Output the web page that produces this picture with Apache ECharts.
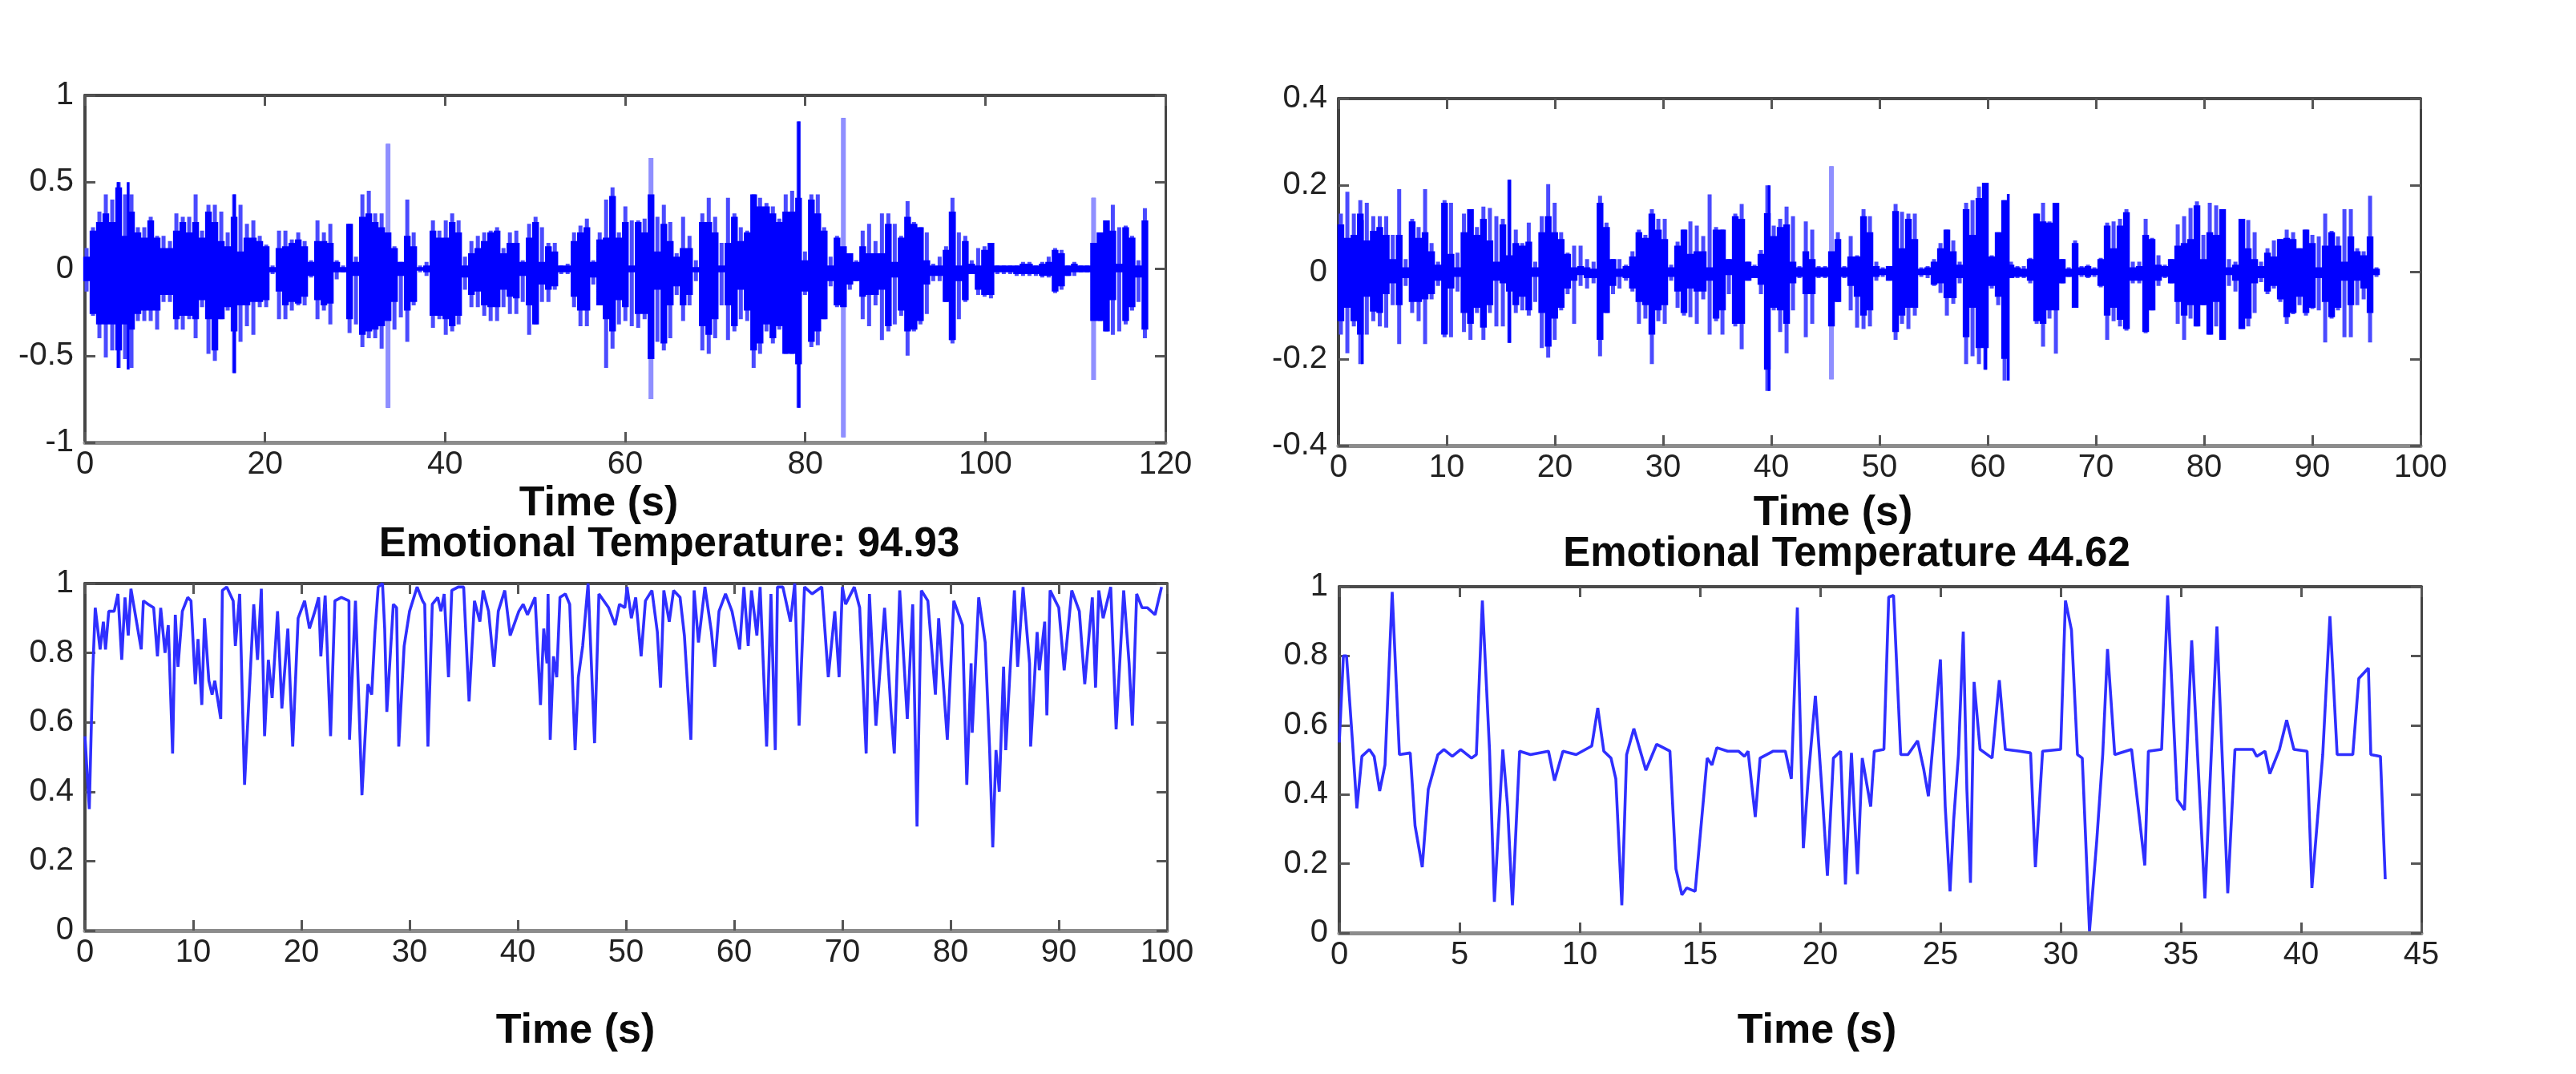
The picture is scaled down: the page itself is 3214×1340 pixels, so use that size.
<!DOCTYPE html>
<html>
<head>
<meta charset="utf-8">
<style>html,body{margin:0;padding:0;background:#fff}#c{width:3214px;height:1340px}</style>
<script src="https://cdn.jsdelivr.net/npm/echarts@6/dist/echarts.min.js"></script>
</head>
<body>
<div id="c"></div>
<script>
const xTitle = "Time (s)";
const titleLeftBottom = "Emotional Temperature: 94.93";
const titleRightBottom = "Emotional Temperature 44.62";

// top-left waveform: dense core and lighter peaks, read column by column
const wave1Start = 0.18, wave1Step = 0.7124;
const wave1CoreHi = [.07,.22,.27,.32,.27,.47,.19,.33,.21,.18,.28,.18,.12,.12,.22,.27,.21,.27,.18,.33,.27,.16,.13,.30,.10,.18,.18,.16,.13,.01,.12,.13,.15,.17,.13,.04,.16,.16,.15,.04,.01,.26,.04,.30,.32,.27,.24,.21,.12,.04,.19,.13,.01,.02,.22,.18,.18,.27,.21,.02,.09,.12,.16,.21,.22,
.09,.15,.15,.04,.18,.27,.04,.13,.10,.02,.02,.16,.21,.24,.04,.17,.18,.42,.18,.27,.02,.27,.21,.43,.10,.26,.16,.07,.12,.12,.01,.27,.27,.21,.02,.15,.30,.16,.21,.43,.36,.36,.32,.27,.33,.33,.41,.05,.40,.32,.22,.02,.18,.13,.09,.04,.13,.09,.09,.09,.26,.04,.18,.30,.26,
.24,.05,.02,.02,.11,.33,.02,.16,.03,.02,.11,.15,.02,.02,.02,.02,.03,.03,.02,.03,.04,.11,.09,.02,.03,.02,.02,.15,.21,.28,.22,.03,.24,.18,.02,.28];
const wave1PeakHi = [.12,.24,.33,.43,.40,.50,.43,.43,.24,.24,.30,.19,.19,.16,.32,.30,.30,.43,.22,.37,.37,.33,.21,.43,.37,.26,.28,.19,.14,.02,.22,.22,.17,.21,.16,.05,.28,.21,.26,.05,.02,.26,.07,.43,.45,.32,.32,.72,.13,.04,.40,.21,.02,.04,.28,.22,.28,.32,.28,.07,.16,.19,.21,.22,.24,
.12,.21,.22,.05,.26,.30,.24,.15,.15,.02,.03,.21,.25,.29,.05,.21,.40,.47,.21,.36,.28,.28,.29,.64,.30,.37,.27,.09,.30,.19,.05,.32,.41,.30,.15,.41,.32,.24,.22,.43,.41,.38,.36,.29,.43,.45,.85,.10,.43,.43,.24,.07,.19,.87,.09,.05,.22,.26,.16,.32,.32,.26,.19,.39,.27,
.24,.21,.03,.07,.13,.41,.21,.19,.05,.12,.13,.15,.02,.02,.02,.02,.04,.04,.02,.04,.07,.12,.11,.02,.04,.02,.02,.41,.21,.28,.37,.24,.25,.19,.05,.35];
const wave1CoreLo = [-.07,-.26,-.32,-.32,-.32,-.47,-.32,-.35,-.26,-.24,-.24,-.24,-.15,-.15,-.29,-.27,-.27,-.29,-.18,-.29,-.47,-.29,-.22,-.36,-.21,-.21,-.19,-.19,-.18,-.02,-.13,-.21,-.19,-.20,-.16,-.04,-.18,-.21,-.20,-.02,-.02,-.29,-.04,-.38,-.36,-.35,-.33,-.30,-.19,-.04,-.24,-.19,-.01,-.02,-.27,-.27,-.29,-.33,-.27,-.05,-.15,-.13,-.21,-.22,-.22,
-.12,-.16,-.17,-.04,-.21,-.32,-.09,-.12,-.10,-.02,-.02,-.16,-.24,-.24,-.05,-.21,-.29,-.36,-.18,-.22,-.02,-.26,-.26,-.52,-.12,-.43,-.21,-.10,-.21,-.15,-.02,-.33,-.38,-.29,-.02,-.21,-.33,-.12,-.24,-.47,-.43,-.32,-.40,-.33,-.49,-.49,-.55,-.13,-.42,-.36,-.29,-.07,-.21,-.22,-.09,-.07,-.16,-.15,-.15,-.12,-.33,-.05,-.24,-.36,-.35,
-.30,-.09,-.04,-.04,-.19,-.41,-.07,-.18,-.03,-.12,-.15,-.15,-.02,-.02,-.02,-.03,-.03,-.03,-.03,-.04,-.04,-.13,-.10,-.04,-.02,-.02,-.02,-.30,-.30,-.36,-.18,-.02,-.30,-.22,-.05,-.35];
const wave1PeakLo = [-.13,-.27,-.40,-.51,-.47,-.57,-.52,-.57,-.30,-.30,-.30,-.35,-.19,-.19,-.35,-.35,-.29,-.40,-.22,-.49,-.53,-.29,-.24,-.60,-.42,-.33,-.38,-.22,-.22,-.03,-.29,-.29,-.24,-.21,-.21,-.05,-.29,-.24,-.32,-.06,-.02,-.37,-.32,-.45,-.40,-.40,-.46,-.80,-.35,-.28,-.42,-.21,-.02,-.04,-.34,-.29,-.38,-.36,-.32,-.12,-.22,-.22,-.27,-.30,-.30,
-.22,-.26,-.26,-.19,-.38,-.32,-.19,-.19,-.12,-.03,-.03,-.22,-.33,-.33,-.09,-.21,-.57,-.46,-.32,-.30,-.33,-.34,-.29,-.75,-.42,-.47,-.40,-.15,-.30,-.21,-.07,-.47,-.49,-.40,-.21,-.41,-.36,-.29,-.30,-.57,-.49,-.36,-.43,-.35,-.49,-.49,-.80,-.15,-.45,-.44,-.29,-.10,-.22,-.97,-.12,-.07,-.29,-.33,-.21,-.41,-.36,-.32,-.27,-.50,-.36,
-.32,-.26,-.07,-.07,-.19,-.43,-.29,-.19,-.03,-.15,-.16,-.17,-.03,-.03,-.03,-.04,-.04,-.04,-.04,-.05,-.05,-.14,-.12,-.04,-.04,-.02,-.02,-.64,-.30,-.36,-.38,-.36,-.32,-.24,-.19,-.40];
const wave1ThinT = [3.7,4.8,16.6,79.3,96.1];
const wave1ThinHi = [.50,.50,.43,.85,.33];
const wave1ThinLo = [-.57,-.58,-.60,-.80,-.41];
const wave1SoftT = [33.66,62.87,84.24,112.03];
const wave1SoftHi = [.72,.64,.87,.41];
const wave1SoftLo = [-.80,-.75,-.97,-.64];

// top-right waveform, first stretch
const wave2AStart = 0.22, wave2AStep = 0.5988;
const wave2ACoreHi = [.110,.079,.086,.135,.073,.095,.104,.086,.030,.086,.011,.117,.079,.092,.048,.017,.160,.042,.011,.092,.145,.086,.123,.073,.024,.110,.039,.067,.061,.070,.011,.092,.129,.092,.076,.042,.011,.014,.011,.008,.160,.104,.030,.008,.014,.036,.092,.079,.135];
const wave2APeakHi = [.135,.185,.135,.166,.160,.129,.129,.129,.086,.191,.030,.123,.104,.191,.067,.024,.166,.160,.045,.135,.145,.104,.151,.148,.129,.123,.213,.098,.067,.114,.024,.129,.203,.160,.092,.045,.061,.061,.030,.024,.176,.114,.030,.030,.017,.048,.098,.086,.145];
const wave2ACoreLo = [-.113,-.082,-.113,-.144,-.057,-.091,-.094,-.051,-.026,-.076,-.014,-.069,-.069,-.063,-.051,-.020,-.144,-.038,-.011,-.094,-.119,-.082,-.128,-.076,-.020,-.026,-.045,-.076,-.057,-.088,-.011,-.094,-.172,-.107,-.082,-.038,-.020,-.007,-.014,-.014,-.156,-.094,-.032,-.011,-.014,-.038,-.069,-.076,-.144];
const wave2APeakLo = [-.144,-.187,-.125,-.212,-.144,-.113,-.125,-.128,-.076,-.166,-.032,-.094,-.113,-.166,-.063,-.032,-.150,-.150,-.045,-.138,-.156,-.094,-.156,-.094,-.125,-.125,-.163,-.094,-.088,-.100,-.069,-.175,-.197,-.156,-.088,-.051,-.119,-.032,-.038,-.026,-.194,-.094,-.051,-.038,-.020,-.045,-.119,-.107,-.212];

// top-right waveform, second stretch
const wave2BStart = 29.56, wave2BStep = 0.5926;
const wave2BCoreHi = [.098,.076,.011,.061,.098,.042,.048,.048,.011,.098,.098,.030,.129,.123,.024,
.014,.042,.136,.083,.104,.110,.024,.011,.048,.030,.011,.011,.048,.076,.011,.036,.036,.129,.092,.014,.008,.014,.141,.055,.123,.076,.008,.011,.024,.055,.098,.048,.017,.145,.086,.171,.206,.036,.092,.166,.017,.011,.008,.030,.135,.117,.114,.160,.030,.008,.067,.011,.014,.008,.030,.107,.055,.107,.138,.011,.014,.086,.076,.017,.014,
.030,.061,.067,.076,.154,.030,.092,.086,.145,.011,.017,.123,.055,.030,.014,.045,.036,.076,.079,.076,.055,.098,.067,.011,.061,.092,.061,.024,.082,.048,.039,.082,.008];
const wave2BPeakHi = [.123,.123,.017,.070,.098,.117,.107,.083,.179,.104,.098,.030,.135,.157,.024,
.017,.051,.200,.107,.123,.151,.129,.014,.117,.098,.014,.014,.244,.092,.014,.083,.039,.145,.129,.024,.011,.014,.157,.139,.135,.135,.011,.014,.030,.067,.098,.073,.024,.160,.166,.197,.206,.039,.092,.166,.024,.014,.014,.033,.135,.160,.117,.160,.030,.011,.073,.014,.017,.011,.033,.114,.117,.123,.145,.024,.024,.123,.079,.039,.017,
.030,.110,.129,.148,.163,.086,.160,.154,.145,.030,.024,.123,.120,.092,.024,.055,.073,.076,.098,.092,.055,.098,.086,.082,.135,.095,.082,.145,.145,.055,.048,.176,.011];
const wave2BCoreLo = [-.088,-.076,-.011,-.045,-.094,-.038,-.045,-.045,-.020,-.107,-.088,-.007,-.119,-.119,-.020,
-.014,-.029,-.225,-.082,-.088,-.119,-.026,-.011,-.051,-.051,-.011,-.011,-.125,-.069,-.011,-.032,-.057,-.100,-.088,-.011,-.007,-.020,-.138,-.100,-.082,-.082,-.007,-.007,-.029,-.026,-.060,-.060,-.014,-.150,-.082,-.175,-.175,-.032,-.057,-.200,-.014,-.011,-.011,-.020,-.113,-.119,-.088,-.088,-.026,-.011,-.082,-.007,-.011,-.007,-.032,-.100,-.082,-.110,-.131,-.020,-.020,-.138,-.088,-.020,-.011,
-.026,-.069,-.100,-.076,-.125,-.076,-.144,-.069,-.156,-.007,-.020,-.131,-.107,-.026,-.014,-.045,-.032,-.063,-.104,-.094,-.057,-.094,-.082,-.014,-.069,-.104,-.082,-.020,-.076,-.020,-.038,-.094,-.007];
const wave2BPeakLo = [-.113,-.119,-.020,-.082,-.100,-.104,-.119,-.063,-.144,-.113,-.144,-.051,-.125,-.178,-.020,
-.014,-.051,-.274,-.088,-.138,-.187,-.088,-.014,-.150,-.119,-.014,-.014,-.247,-.069,-.014,-.088,-.128,-.131,-.125,-.020,-.011,-.020,-.156,-.119,-.131,-.100,-.011,-.014,-.032,-.048,-.100,-.073,-.026,-.212,-.194,-.212,-.225,-.038,-.076,-.250,-.014,-.014,-.014,-.026,-.119,-.172,-.107,-.188,-.026,-.011,-.082,-.011,-.014,-.011,-.035,-.156,-.113,-.125,-.135,-.026,-.026,-.141,-.088,-.032,-.014,
-.026,-.119,-.156,-.107,-.125,-.076,-.144,-.125,-.156,-.032,-.045,-.131,-.125,-.094,-.023,-.051,-.038,-.069,-.119,-.097,-.076,-.100,-.085,-.088,-.162,-.107,-.088,-.150,-.150,-.076,-.063,-.162,-.011];
const wave2ThinT = [2.2,15.8,39.8,59.8,61.9];
const wave2ThinHi = [.12,.213,.20,.206,.18];
const wave2ThinLo = [-.212,-.163,-.274,-.225,-.25];
const wave2SoftT = [45.56];
const wave2SoftHi = [.244];
const wave2SoftLo = [-.247];

// bottom-left: emotional temperature 94.93
const temp1T = [0,.4,.7,.95,1.4,1.7,1.9,2.2,2.7,3.05,3.4,3.7,4.0,4.25,5.2,5.4,5.85,6.35,6.7,7.0,7.4,7.7,8.1,8.35,8.6,9.0,9.5,9.8,10.2,10.45,10.8,11.05,11.45,11.75,12.0,12.55,12.7,13.1,13.7,13.9,14.3,14.75,15.6,15.95,16.3,16.6,16.95,17.3,17.8,18.2,18.75,19.2,19.7,20.3,20.75,21.25,21.6,21.8,22.2,22.7,23.1,23.7,24.4,24.45,25.0,25.6,
26.15,26.5,26.8,27.1,27.5,27.7,27.9,28.5,28.8,29.0,29.5,30.0,30.7,31.2,31.4,31.7,32.1,32.6,32.9,33.2,33.6,33.9,34.5,35.0,35.5,36.0,36.5,36.8,37.3,37.8,38.2,38.8,39.3,40.1,40.5,40.9,41.6,42.1,42.4,42.7,42.8,43.0,43.3,43.6,43.9,44.4,44.8,45.3,45.6,46.0,46.5,47.1,47.5,48.4,49.0,49.4,49.9,50.1,50.5,50.9,
51.4,51.8,52.4,52.9,53.2,53.5,54.0,54.4,55.0,55.4,56.0,56.3,56.7,57.3,57.9,58.2,58.6,59.2,59.8,60.5,60.9,61.3,61.6,62.1,62.4,63.0,63.4,63.8,64.0,64.5,65.2,65.6,66.0,66.5,67.2,68.1,68.7,69.3,69.7,70.0,70.3,71.1,71.6,72.2,72.5,73.1,73.9,74.5,74.8,75.3,76.0,76.5,76.9,77.3,77.9,78.6,78.9,79.7,80.3,81.1,81.5,81.9,82.0,82.6,83.2,83.6,83.9,84.2,84.5,84.9,85.1,85.9,86.2,86.7,87.3,87.4,88.0,88.2,88.7,88.9,89.2,90.0,90.5,91.2,91.9,92.4,93.1,93.4,93.7,94.1,94.8,95.3,96.0,96.5,96.8,97.2,97.7,98.2,98.9,99.5];
const temp1V = [.56,.35,.73,.93,.81,.89,.81,.92,.92,.97,.78,.96,.85,.985,.81,.95,.94,.93,.79,.93,.80,.88,.51,.91,.76,.92,.96,.95,.71,.84,.65,.90,.72,.68,.72,.61,.98,.99,.95,.82,.97,.42,.94,.78,.985,.56,.78,.67,.92,.64,.87,.53,.90,.95,.87,.92,.96,.79,.965,.56,.95,.96,.95,.55,.95,.39,
.71,.68,.86,.99,1.0,.87,.63,.94,.93,.53,.82,.92,.99,.95,.94,.53,.94,.96,.92,.97,.73,.98,.99,.99,.66,.95,.89,.98,.92,.76,.92,.98,.85,.92,.94,.91,.96,.65,.87,.77,.97,.55,.79,.73,.96,.97,.94,.52,.73,.82,1.0,.54,.97,.93,.88,.94,.93,.99,.90,.96,
.79,.95,.98,.86,.70,.98,.89,.98,.96,.85,.55,.98,.83,.99,.86,.76,.92,.97,.92,.81,.99,.82,.98,.85,.99,.53,.97,.52,.99,.99,.89,1.0,.59,.99,.97,.99,.73,.92,.73,.99,.94,.99,.93,.51,.97,.59,.93,.63,.51,.98,.61,.94,.30,.98,.95,.68,.90,.55,.95,.88,.42,.77,.57,.96,.83,.53,.24,.52,.40,.76,.52,.98,.76,.99,.77,.53,.86,.75,.89,.62,.98,.93,.75,.98,.92,.71,.96,.70,.98,.90,.99,.58,.98,.77,.59,.97,.93,.93,.91,.99];

// bottom-right: emotional temperature 44.62
const temp2T = [0,.17,.3,.55,.73,.94,1.25,1.45,1.68,1.9,2.2,2.5,2.95,3.15,3.45,3.7,4.1,4.35,4.7,5.05,5.5,5.7,5.95,6.25,6.45,6.8,7.0,7.2,7.5,7.95,8.7,8.95,9.3,9.85,10.5,10.75,11.0,11.3,11.5,11.75,11.95,12.25,12.75,13.2,13.75,14.0,14.25,14.45,14.8,15.3,15.5,15.7,16.15,16.6,16.85,17.0,17.3,17.5,18.05,18.55,18.8,19.05,19.3,19.5,19.8,20.1,20.3,20.55,20.85,21.05,21.3,21.55,21.75,22.1,22.25,22.65,22.85,23.05,23.35,23.65,24.05,24.3,24.5,
25.0,25.2,25.4,25.55,25.75,25.95,26.1,26.25,26.4,26.65,27.15,27.45,27.7,28.3,28.75,28.95,29.25,30.0,30.2,30.45,30.7,30.9,31.2,31.5,31.75,31.95,32.25,32.95,33.5,33.65,34.2,34.45,34.85,35.15,35.45,36.0,36.5,36.95,37.25,38.0,38.15,38.5,38.7,39.1,39.4,39.7,40.25,40.45,40.9,41.2,41.5,42.15,42.4,42.8,42.9,43.3,43.5];
const temp2V = [.55,.80,.80,.55,.36,.51,.53,.51,.41,.485,.985,.515,.52,.31,.19,.415,.515,.53,.51,.53,.505,.515,.96,.525,.09,.53,.365,.08,.525,.515,.525,.44,.525,.515,.54,.65,.525,.505,.445,.08,.515,.59,.47,.545,.525,.185,.11,.13,.12,.505,.485,.535,.525,.525,.51,.525,.335,.505,.525,.525,.445,.94,.245,.445,.685,.385,.165,.505,.525,.14,.52,.17,.505,.365,.525,.53,.97,.975,.515,.515,.555,.475,.395,
.79,.365,.12,.325,.515,.87,.415,.145,.725,.53,.505,.73,.53,.525,.52,.19,.525,.53,.96,.875,.515,.505,.005,.265,.515,.82,.515,.53,.195,.525,.53,.975,.385,.355,.845,.10,.885,.115,.53,.53,.51,.525,.46,.53,.615,.53,.525,.13,.515,.915,.515,.515,.735,.765,.515,.51,.155];

// axes
const panels = [
  {left:106,  top:119, width:1348, height:433, xMax:120, xInt:20, yMin:-1,  yMax:1,  yInt:.5},
  {left:1670, top:123, width:1350, height:433, xMax:100, xInt:10, yMin:-.4, yMax:.4, yInt:.2},
  {left:106,  top:728, width:1350, height:433, xMax:100, xInt:10, yMin:0,   yMax:1,  yInt:.2},
  {left:1671, top:732, width:1350, height:432, xMax:45,  xInt:5,  yMin:0,   yMax:1,  yInt:.2}
];

const font = '"Liberation Sans", Arial, sans-serif';
const tick = {show:true, inside:true, length:13, lineStyle:{color:'#555', width:3}};

function columns(start, step, hi, lo){
  const out = [];
  for (let i = 0; i < hi.length; i++){
    const t = start + i * step;
    out.push([t, hi[i]], [t, lo[i]], [t, '-']);
  }
  return out;
}
function thin(ts, hi, lo){
  const out = [];
  ts.forEach((t, i) => out.push([t, hi[i]], [t, lo[i]], [t, '-']));
  return out;
}
function pairs(ts, vs){ return ts.map((t, i) => [t, vs[i]]); }

const grid = [], xAxis = [], yAxis = [];
panels.forEach((p, i) => {
  grid.push({left:p.left, top:p.top, width:p.width, height:p.height, containLabel:false});
  xAxis.push({type:'value', gridIndex:i, position:'bottom', min:0, max:p.xMax, interval:p.xInt,
    axisLine:{show:true, onZero:false, lineStyle:{color:'#8c8c8c', width:5}}, axisTick:tick, splitLine:{show:false},
    axisLabel:{show:true, color:'#222', fontFamily:font, fontSize:40, margin:8}});
  xAxis.push({type:'value', gridIndex:i, position:'top', min:0, max:p.xMax, interval:p.xInt,
    axisLine:{show:true, onZero:false, lineStyle:{color:'#4a4a4a', width:4}}, axisTick:tick, splitLine:{show:false},
    axisLabel:{show:false}});
  yAxis.push({type:'value', gridIndex:i, position:'left', min:p.yMin, max:p.yMax, interval:p.yInt,
    axisLine:{show:true, onZero:false, lineStyle:{color:'#444', width:4}}, axisTick:tick, splitLine:{show:false},
    axisLabel:{show:true, color:'#222', fontFamily:font, fontSize:40, margin:14, padding:[0,0,20,0]}});
  yAxis.push({type:'value', gridIndex:i, position:'right', min:p.yMin, max:p.yMax, interval:p.yInt,
    axisLine:{show:true, onZero:false, lineStyle:{color:'#444', width:3}}, axisTick:tick, splitLine:{show:false},
    axisLabel:{show:false}});
});

function lineSeries(panel, data, color, width){
  return {type:'line', xAxisIndex:panel*2, yAxisIndex:panel*2, data, showSymbol:false, symbol:'none',
    connectNulls:false, animation:false, silent:true,
    lineStyle:{color, width, cap:'butt', join:'bevel'}};
}

const peakColor = '#4a4aff', softColor = '#8f8fff', coreColor = '#0000ff';
const series = [
  lineSeries(0, columns(wave1Start, wave1Step, wave1PeakHi, wave1PeakLo), peakColor, 5),
  lineSeries(0, thin(wave1SoftT, wave1SoftHi, wave1SoftLo), softColor, 6),
  lineSeries(0, columns(wave1Start, wave1Step, wave1CoreHi, wave1CoreLo), coreColor, 8.4),
  lineSeries(0, thin(wave1ThinT, wave1ThinHi, wave1ThinLo), coreColor, 3.5),
  lineSeries(1, columns(wave2AStart, wave2AStep, wave2APeakHi, wave2APeakLo), peakColor, 5),
  lineSeries(1, columns(wave2BStart, wave2BStep, wave2BPeakHi, wave2BPeakLo), peakColor, 5),
  lineSeries(1, thin(wave2SoftT, wave2SoftHi, wave2SoftLo), softColor, 6),
  lineSeries(1, columns(wave2AStart, wave2AStep, wave2ACoreHi, wave2ACoreLo), coreColor, 8.4),
  lineSeries(1, columns(wave2BStart, wave2BStep, wave2BCoreHi, wave2BCoreLo), coreColor, 8.4),
  lineSeries(1, thin(wave2ThinT, wave2ThinHi, wave2ThinLo), coreColor, 3.5),
  lineSeries(2, pairs(temp1T, temp1V), '#2f2fff', 3.6),
  lineSeries(3, pairs(temp2T, temp2V), '#2f2fff', 3.6)
];

function label(text, x, y, size){
  return {text, left:x, top:y, textAlign:'center', textVerticalAlign:'middle', padding:0,
    textStyle:{color:'#0a0a0a', fontFamily:font, fontWeight:'bold', fontSize:size}};
}
const title = [
  label(xTitle, 747, 629, 52),
  label(xTitle, 2287, 641, 52),
  label(titleLeftBottom, 835, 680, 51),
  label(titleRightBottom, 2304, 692, 51),
  label(xTitle, 718, 1287, 52),
  label(xTitle, 2267, 1287, 52)
];

const chart = echarts.init(document.getElementById('c'), null, {renderer:'canvas', width:3214, height:1340});
chart.setOption({backgroundColor:'#fff', animation:false, title, grid, xAxis, yAxis, series});
</script>
</body>
</html>
